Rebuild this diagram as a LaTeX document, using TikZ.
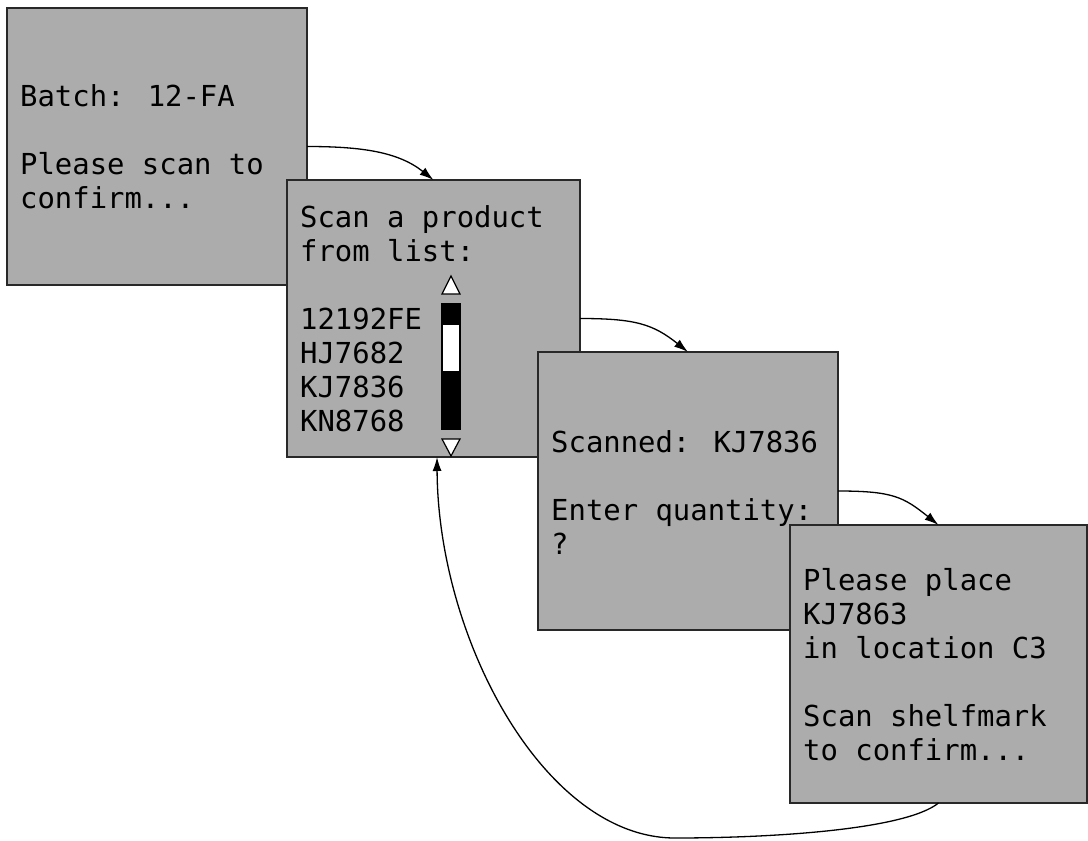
\documentclass[tikz,border=0pt]{standalone}
\usepackage{fontspec}
\newfontfamily\scrfont{DejaVu Sans Mono}
\usetikzlibrary{arrows.meta,calc}
\definecolor{boxgray}{RGB}{172,172,172}
\definecolor{edgegray}{RGB}{40,40,40}
\tikzset{
  scrbox/.style={draw=edgegray, fill=boxgray, line width=1.5pt, inner sep=0pt, outer sep=0pt},
  scrtext/.style={anchor=north west, inner sep=0pt, align=left, text=black,
    font=\scrfont\fontsize{28.9}{34}\selectfont},
  flow/.style={line width=1.3pt, draw=black, -{Latex[length=14pt,width=9pt]}},
  sbtri/.style={fill=white, draw=black, line width=1.2pt, line join=miter},
}
\begin{document}
\begin{tikzpicture}[x=1pt,y=-1pt]
\useasboundingbox (0,0) rectangle (1088,841);
\fill[white] (0,0) rectangle (1088,841);
% box 1
\node[scrbox, minimum width=300pt, minimum height=277pt] (b1) at (157,146.5) {};
\node[scrtext] (t1) at (20,82.2) {\strut Batch: 12-FA\\ \\Please scan to\\confirm...};
% box 2
\node[scrbox, minimum width=293pt, minimum height=277pt] (b2) at (433.5,318.5) {};
\node[scrtext] (t2) at (300,203.2) {\strut Scan a product\\from list:\\ \\12192FE\\HJ7682\\KJ7836\\KN8768};
% scroll bar
\fill[black] (441,303) rectangle (461,430);
\fill[white] (443,325) rectangle (459,371);
\draw[sbtri] (451,276) -- (460,294) -- (442,294) -- cycle;
\draw[sbtri] (442,439) -- (460,439) -- (451,456) -- cycle;
% box 3
\node[scrbox, minimum width=300pt, minimum height=278pt] (b3) at (688,491) {};
\node[scrtext] (t3) at (551,428.2) {\strut Scanned: KJ7836\\ \\Enter quantity:\\?};
% box 4
\node[scrbox, minimum width=297pt, minimum height=278pt] (b4) at (938.5,664) {};
\node[scrtext] (t4) at (803,566.2) {\strut Please place\\KJ7863\\in location C3\\ \\Scan shelfmark\\to confirm...};
% connectors
\draw[flow] (b1.east) .. controls +(55,0) and +(-35,-28) .. (b2.north);
\draw[flow] (b2.east) .. controls +(55,0) and +(-35,-28) .. (b3.north);
\draw[flow] (b3.east) .. controls +(55,0) and +(-35,-28) .. (b4.north);
\coordinate (ret) at ($(b2.south)+(3.5,0)$);
\coordinate (low) at (675,838);
\draw[flow] (b4.south) .. controls (905,830) and (770,838) .. (low)
  .. controls (545,838) and (438,640) .. (ret);
\end{tikzpicture}
\end{document}
